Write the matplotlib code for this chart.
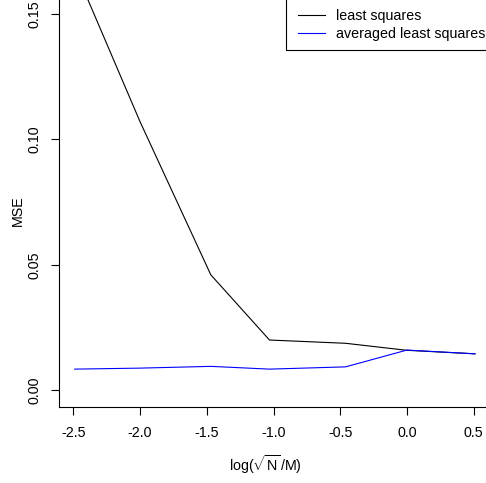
import matplotlib
matplotlib.use('Agg')
import matplotlib.pyplot as plt
from matplotlib.patches import Rectangle
from matplotlib.lines import Line2D

plt.rcParams['font.family'] = 'Liberation Sans'
plt.rcParams['axes.unicode_minus'] = False
plt.rcParams['mathtext.fontset'] = 'custom'
plt.rcParams['mathtext.rm'] = 'Liberation Sans'
plt.rcParams['mathtext.it'] = 'Liberation Sans'

# log(sqrt(N)/M) values and MSE per method
x_vals = [-2.49, -2.0, -1.47, -1.03, -0.46, 0.0, 0.51]
mse_ls = [0.168, 0.107, 0.046, 0.020, 0.0187, 0.0159, 0.0145]
mse_avg = [0.0084, 0.0088, 0.0095, 0.0084, 0.0093, 0.0160, 0.0145]
series_labels = ['least squares', 'averaged least squares']
y_ticks = [0.0, 0.05, 0.10, 0.15]
x_ticks = [-2.5, -2.0, -1.5, -1.0, -0.5, 0.0, 0.5]

FS = 10.3
W, H = 486, 483
fig = plt.figure(figsize=(W / 100, H / 100), dpi=100)
# plot region runs past the top and right edges of the picture
left, right, bottom, top = 58.7, 491, 407, -48
ax = fig.add_axes([left / W, 1 - bottom / H, (right - left) / W, (bottom - top) / H])

ax.plot(x_vals, mse_ls, color='black', lw=0.8)
ax.plot(x_vals, mse_avg, color='#0000FF', lw=0.8)

ax.set_xlim(-2.61, 0.63)
ax.set_ylim(-0.0067, 0.1747)
ax.set_xticks(x_ticks)
ax.set_xticklabels([f'{v:.1f}' for v in x_ticks])
ax.set_yticks(y_ticks)
ax.set_yticklabels([f'{v:.2f}' for v in y_ticks], rotation=90, va='center')
ax.tick_params(labelsize=FS, length=5.5, width=0.8, pad=7)
ax.tick_params(axis='x', pad=8)
for s in ['top', 'right']:
    ax.spines[s].set_visible(False)
for s in ['left', 'bottom']:
    ax.spines[s].set_linewidth(0.8)

fig.text(18 / W, 1 - 211 / H, 'MSE', rotation=90, ha='center', va='center', fontsize=FS)
fig.text(265 / W, 1 - 465 / H, r'$\mathrm{log(}\sqrt{\mathrm{N}}\,/\mathrm{M)}$',
         ha='center', va='center', fontsize=FS)

# legend box (top-right, clipped by the picture edges)
fig.patches.append(Rectangle((286 / W, 1 - 50 / H), 1, 1, transform=fig.transFigure,
                             fill=False, edgecolor='black', lw=0.8))
handles = [Line2D([], [], color='black', lw=0.8), Line2D([], [], color='#0000FF', lw=0.8)]
fig.legend(handles, series_labels, loc='upper left', bbox_to_anchor=(291 / W, 1 - 2 / H),
           frameon=False, fontsize=FS, handlelength=1.9, handletextpad=0.75,
           labelspacing=0.28, borderpad=0)

fig.savefig('out.png', dpi=100, facecolor='white')
